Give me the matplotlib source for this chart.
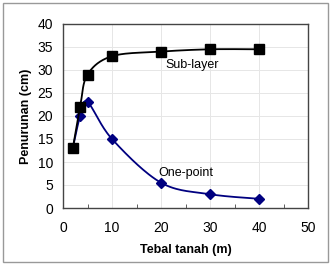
import numpy as np
import matplotlib
matplotlib.use('Agg')
import matplotlib.pyplot as plt
from matplotlib.patches import Rectangle

plt.rcParams['font.family'] = ['Liberation Sans', 'DejaVu Sans']

tebal = [2, 3.5, 5, 10, 20, 30, 40]
sublayer = [13, 22, 29, 33, 34, 34.5, 34.5]
onepoint = [13, 20, 23, 15, 5.5, 3, 2]


def smooth(x, y, n=30):
    # catmull-rom style smoothing, like excel's smoothed line
    x = np.asarray(x, float)
    y = np.asarray(y, float)
    px = np.concatenate([[x[0]], x, [x[-1]]])
    py = np.concatenate([[y[0]], y, [y[-1]]])
    xs, ys = [], []
    t = np.linspace(0, 1, n)
    for i in range(1, len(px) - 2):
        p0, p1, p2, p3 = (np.array([px[j], py[j]]) for j in (i - 1, i, i + 1, i + 2))
        c1 = p1 + (p2 - p0) / 6
        c2 = p2 - (p3 - p1) / 6
        pts = ((1 - t) ** 3)[:, None] * p1 + (3 * (1 - t) ** 2 * t)[:, None] * c1 \
            + (3 * (1 - t) * t ** 2)[:, None] * c2 + (t ** 3)[:, None] * p2
        xs.extend(pts[:, 0])
        ys.extend(pts[:, 1])
    return xs, ys


fig = plt.figure(figsize=(3.32, 2.64), dpi=100)
ax = fig.add_axes([63 / 332, 1 - 208 / 264, 245 / 332, 184 / 264])

sx, sy = smooth(tebal, onepoint)
ax.plot(sx, sy, color='#000080', lw=1.3, zorder=3)
ax.plot(tebal, onepoint, ls='none', marker='D', ms=5.3, color='#000080', zorder=4)

sx, sy = smooth(tebal, sublayer)
ax.plot(sx, sy, color='black', lw=1.3, zorder=5)
ax.plot(tebal, sublayer, ls='none', marker='s', ms=7.8, color='black', zorder=6)

ax.set_xlim(0, 50)
ax.set_ylim(0, 40)
ax.set_xticks(range(0, 51, 10))
ax.set_xticks(range(5, 50, 10), minor=True)
ax.set_yticks(range(0, 41, 5))
ax.grid(True, which='major', color='#e6e6e6', lw=0.7)
ax.set_axisbelow(True)
ax.tick_params(axis='both', which='major', labelsize=10, length=0)
ax.tick_params(axis='x', which='major', pad=9)
ax.tick_params(axis='y', which='major', pad=7)
ax.tick_params(axis='x', which='minor', direction='in', length=3, color='#444444')
for s in ax.spines.values():
    s.set_color('#444444')
    s.set_linewidth(1)

ax.set_ylabel('Penurunan (cm)', fontsize=9, fontweight='bold', labelpad=4)
ax.set_xlabel('Tebal tanah (m)', fontsize=9, fontweight='bold', labelpad=7)

ax.text(20.8, 31.1, 'Sub-layer', fontsize=9, va='center', ha='left')
ax.text(19.4, 7.6, 'One-point', fontsize=9, va='center', ha='left')

fig.patches.append(Rectangle((3 / 332, 2 / 264), 325 / 332, 259 / 264, transform=fig.transFigure,
                             fill=False, edgecolor='#999999', lw=1))

fig.savefig('out.png', dpi=100)
